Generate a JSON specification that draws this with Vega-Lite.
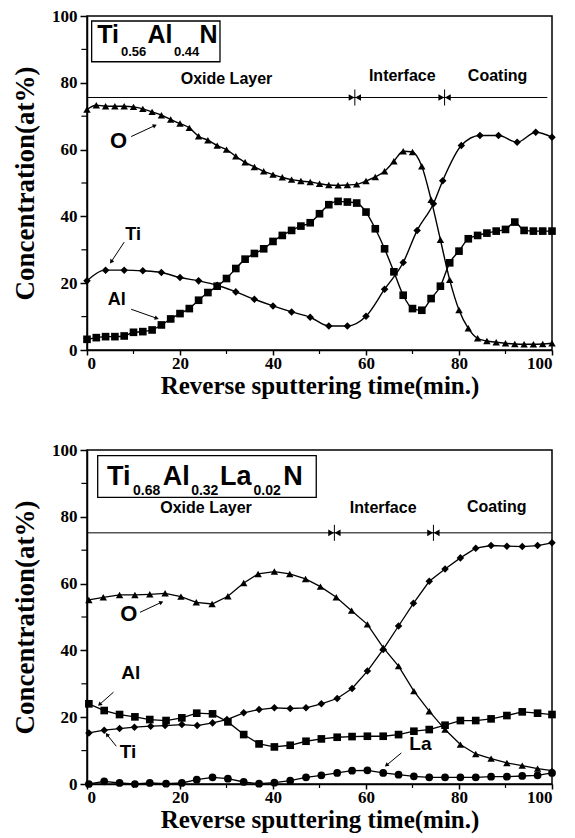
{
  "$schema": "https://vega.github.io/schema/vega-lite/v6.json",
  "padding": {"left": 10, "top": 6, "right": 5, "bottom": 3},
  "background": "white",
  "datasets": {
    "top": [
      {"s":"O","t":0,"c":72},{"s":"O","t":2,"c":73.3},{"s":"O","t":4,"c":73},{"s":"O","t":6,"c":73},{"s":"O","t":8,"c":73},{"s":"O","t":10,"c":72.8},{"s":"O","t":12,"c":72.2},{"s":"O","t":14,"c":71.3},{"s":"O","t":16,"c":70.3},{"s":"O","t":18,"c":69},{"s":"O","t":20,"c":67.8},{"s":"O","t":22,"c":66.5},{"s":"O","t":24,"c":64},{"s":"O","t":26,"c":62.8},{"s":"O","t":28,"c":61.2},{"s":"O","t":30,"c":60},{"s":"O","t":32,"c":58},{"s":"O","t":34,"c":56.2},{"s":"O","t":36,"c":54.8},{"s":"O","t":38,"c":53.5},{"s":"O","t":40,"c":52.5},{"s":"O","t":42,"c":51.7},{"s":"O","t":44,"c":51},{"s":"O","t":46,"c":50.6},{"s":"O","t":48,"c":50.3},{"s":"O","t":50,"c":49.8},{"s":"O","t":52,"c":49.4},{"s":"O","t":54,"c":49.3},{"s":"O","t":56,"c":49.4},{"s":"O","t":58,"c":49.6},{"s":"O","t":60,"c":50.6},{"s":"O","t":62,"c":51.8},{"s":"O","t":64,"c":53.5},{"s":"O","t":66,"c":56.5},{"s":"O","t":68,"c":59.5},{"s":"O","t":70,"c":59.3},{"s":"O","t":72,"c":55},{"s":"O","t":74,"c":45},{"s":"O","t":76,"c":33},{"s":"O","t":78,"c":21},{"s":"O","t":80,"c":12},{"s":"O","t":82,"c":6.5},{"s":"O","t":84,"c":3.5},{"s":"O","t":86,"c":2.7},{"s":"O","t":88,"c":2.3},{"s":"O","t":90,"c":2},{"s":"O","t":92,"c":1.8},{"s":"O","t":94,"c":1.7},{"s":"O","t":96,"c":1.7},{"s":"O","t":98,"c":1.8},{"s":"O","t":100,"c":2},
      {"s":"Ti","t":0,"c":20.7},{"s":"Ti","t":4,"c":23.9},{"s":"Ti","t":8,"c":23.9},{"s":"Ti","t":12,"c":23.7},{"s":"Ti","t":16,"c":23.2},{"s":"Ti","t":20,"c":21.7},{"s":"Ti","t":24,"c":20.7},{"s":"Ti","t":28,"c":19.4},{"s":"Ti","t":32,"c":17.4},{"s":"Ti","t":36,"c":15.2},{"s":"Ti","t":40,"c":13.2},{"s":"Ti","t":44,"c":11.4},{"s":"Ti","t":48,"c":9.8},{"s":"Ti","t":52,"c":7.2},{"s":"Ti","t":56,"c":7.2},{"s":"Ti","t":60,"c":10.1},{"s":"Ti","t":64,"c":18.2},{"s":"Ti","t":68,"c":26.2},{"s":"Ti","t":71,"c":35.8},{"s":"Ti","t":74.5,"c":43.8},{"s":"Ti","t":76.5,"c":50.7},{"s":"Ti","t":80.5,"c":61.2},{"s":"Ti","t":84.5,"c":64.2},{"s":"Ti","t":88.5,"c":64.2},{"s":"Ti","t":92.5,"c":62.2},{"s":"Ti","t":96.5,"c":65.2},{"s":"Ti","t":100,"c":63.7},
      {"s":"Al","t":0,"c":3.2},{"s":"Al","t":2,"c":3.7},{"s":"Al","t":4,"c":4},{"s":"Al","t":6,"c":4},{"s":"Al","t":8,"c":4.2},{"s":"Al","t":10,"c":5.3},{"s":"Al","t":12,"c":5.5},{"s":"Al","t":14,"c":6},{"s":"Al","t":16,"c":7.5},{"s":"Al","t":18,"c":9.3},{"s":"Al","t":20,"c":10.9},{"s":"Al","t":22,"c":12.4},{"s":"Al","t":24,"c":14.9},{"s":"Al","t":26,"c":17.2},{"s":"Al","t":28,"c":19.1},{"s":"Al","t":30,"c":21.4},{"s":"Al","t":32,"c":24.4},{"s":"Al","t":34,"c":27.2},{"s":"Al","t":36,"c":28.9},{"s":"Al","t":38,"c":30.3},{"s":"Al","t":40,"c":32.5},{"s":"Al","t":42,"c":34.3},{"s":"Al","t":44,"c":35.8},{"s":"Al","t":46,"c":37.1},{"s":"Al","t":48,"c":38.1},{"s":"Al","t":50,"c":40.8},{"s":"Al","t":52,"c":43.5},{"s":"Al","t":54,"c":44.5},{"s":"Al","t":56,"c":44.3},{"s":"Al","t":58,"c":44},{"s":"Al","t":60,"c":41.3},{"s":"Al","t":62,"c":36.3},{"s":"Al","t":64,"c":30.3},{"s":"Al","t":66,"c":23.4},{"s":"Al","t":68,"c":16.4},{"s":"Al","t":70,"c":12.4},{"s":"Al","t":72,"c":11.9},{"s":"Al","t":74,"c":15.4},{"s":"Al","t":76,"c":19.1},{"s":"Al","t":78,"c":26.1},{"s":"Al","t":80,"c":29.6},{"s":"Al","t":82,"c":33.3},{"s":"Al","t":84,"c":34.3},{"s":"Al","t":86,"c":35},{"s":"Al","t":88,"c":35.6},{"s":"Al","t":90,"c":36.1},{"s":"Al","t":92,"c":38.3},{"s":"Al","t":94,"c":35.8},{"s":"Al","t":96,"c":35.6},{"s":"Al","t":98,"c":35.6},{"s":"Al","t":100,"c":35.6}
    ],
    "bottom": [
      {"s":"O","t":0.4,"c":55.1},{"s":"O","t":3.5,"c":55.9},{"s":"O","t":7,"c":56.6},{"s":"O","t":10.3,"c":56.6},{"s":"O","t":13.5,"c":56.8},{"s":"O","t":16.8,"c":57.1},{"s":"O","t":20.2,"c":56.1},{"s":"O","t":23.5,"c":54.4},{"s":"O","t":26.9,"c":53.9},{"s":"O","t":30.3,"c":56.2},{"s":"O","t":33.7,"c":60.2},{"s":"O","t":36.8,"c":62.9},{"s":"O","t":40.3,"c":63.6},{"s":"O","t":43.6,"c":62.9},{"s":"O","t":47,"c":61.4},{"s":"O","t":50.2,"c":59.1},{"s":"O","t":53.6,"c":55.9},{"s":"O","t":56.9,"c":51.9},{"s":"O","t":60.3,"c":47.8},{"s":"O","t":63.7,"c":40.8},{"s":"O","t":67,"c":35.3},{"s":"O","t":70.3,"c":27.8},{"s":"O","t":73.6,"c":21.8},{"s":"O","t":77,"c":16.3},{"s":"O","t":80.3,"c":11.8},{"s":"O","t":83.6,"c":9},{"s":"O","t":86.9,"c":7.6},{"s":"O","t":90.3,"c":6.3},{"s":"O","t":93.6,"c":5.5},{"s":"O","t":96.9,"c":4.6},{"s":"O","t":100,"c":4},
      {"s":"Ti","t":0.4,"c":15.3},{"s":"Ti","t":3.7,"c":16.1},{"s":"Ti","t":7,"c":16.6},{"s":"Ti","t":10.2,"c":17},{"s":"Ti","t":13.7,"c":17.3},{"s":"Ti","t":16.8,"c":17.5},{"s":"Ti","t":20.4,"c":17.8},{"s":"Ti","t":23.7,"c":17.5},{"s":"Ti","t":27,"c":18.3},{"s":"Ti","t":30.1,"c":19.3},{"s":"Ti","t":33.7,"c":21.3},{"s":"Ti","t":37,"c":22.3},{"s":"Ti","t":40.3,"c":22.8},{"s":"Ti","t":43.7,"c":22.6},{"s":"Ti","t":47.1,"c":22.8},{"s":"Ti","t":50.4,"c":24},{"s":"Ti","t":53.8,"c":25.6},{"s":"Ti","t":57,"c":28.6},{"s":"Ti","t":60.3,"c":33.8},{"s":"Ti","t":63.7,"c":40.3},{"s":"Ti","t":67,"c":47.3},{"s":"Ti","t":70.2,"c":54.1},{"s":"Ti","t":73.6,"c":60.7},{"s":"Ti","t":77,"c":64.4},{"s":"Ti","t":80.3,"c":67.7},{"s":"Ti","t":83.6,"c":70.6},{"s":"Ti","t":86.9,"c":71.4},{"s":"Ti","t":90.3,"c":71.2},{"s":"Ti","t":93.6,"c":71.1},{"s":"Ti","t":96.9,"c":71.4},{"s":"Ti","t":100,"c":72.2},
      {"s":"Al","t":0.4,"c":24},{"s":"Al","t":3.7,"c":22},{"s":"Al","t":7,"c":20.8},{"s":"Al","t":10.3,"c":20.1},{"s":"Al","t":13.5,"c":19.3},{"s":"Al","t":17,"c":19},{"s":"Al","t":20.4,"c":19.8},{"s":"Al","t":23.6,"c":21.2},{"s":"Al","t":27,"c":21},{"s":"Al","t":30.3,"c":18.6},{"s":"Al","t":33.7,"c":14.8},{"s":"Al","t":37,"c":12},{"s":"Al","t":40.3,"c":11.1},{"s":"Al","t":43.7,"c":11.6},{"s":"Al","t":47.1,"c":12.8},{"s":"Al","t":50.4,"c":13.5},{"s":"Al","t":53.8,"c":14},{"s":"Al","t":57,"c":14.2},{"s":"Al","t":60.3,"c":14.3},{"s":"Al","t":63.7,"c":14.3},{"s":"Al","t":67,"c":14.8},{"s":"Al","t":70.3,"c":15.8},{"s":"Al","t":73.6,"c":16.3},{"s":"Al","t":77,"c":17.6},{"s":"Al","t":80.3,"c":19},{"s":"Al","t":83.6,"c":19},{"s":"Al","t":86.9,"c":19.5},{"s":"Al","t":90.3,"c":20.5},{"s":"Al","t":93.6,"c":21.6},{"s":"Al","t":96.9,"c":21.2},{"s":"Al","t":100,"c":20.8},
      {"s":"La","t":0.4,"c":0},{"s":"La","t":3.7,"c":0.8},{"s":"La","t":7,"c":0.3},{"s":"La","t":10.3,"c":0},{"s":"La","t":13.5,"c":0.3},{"s":"La","t":17,"c":0.1},{"s":"La","t":20.4,"c":0.3},{"s":"La","t":23.6,"c":1.3},{"s":"La","t":27,"c":2},{"s":"La","t":30.3,"c":1.6},{"s":"La","t":33.7,"c":0.6},{"s":"La","t":37,"c":0.1},{"s":"La","t":40.3,"c":0.4},{"s":"La","t":43.7,"c":1},{"s":"La","t":47.1,"c":2},{"s":"La","t":50.4,"c":2.6},{"s":"La","t":53.8,"c":3.3},{"s":"La","t":57,"c":4},{"s":"La","t":60.3,"c":4.1},{"s":"La","t":63.7,"c":3.3},{"s":"La","t":67,"c":2.8},{"s":"La","t":70.3,"c":2.3},{"s":"La","t":73.6,"c":2},{"s":"La","t":77,"c":2},{"s":"La","t":80.3,"c":2},{"s":"La","t":83.6,"c":2},{"s":"La","t":86.9,"c":2.2},{"s":"La","t":90.3,"c":2.2},{"s":"La","t":93.6,"c":2.4},{"s":"La","t":96.9,"c":2.6},{"s":"La","t":100,"c":3.3}
    ],
    "minorTicks": [
      {"t":-1.2,"t2":0,"c":10,"c2":10},{"t":-1.2,"t2":0,"c":30,"c2":30},{"t":-1.2,"t2":0,"c":50,"c2":50},{"t":-1.2,"t2":0,"c":70,"c2":70},{"t":-1.2,"t2":0,"c":90,"c2":90},
      {"t":10,"t2":10,"c":-1.2,"c2":0},{"t":30,"t2":30,"c":-1.2,"c2":0},{"t":50,"t2":50,"c":-1.2,"c2":0},{"t":70,"t2":70,"c":-1.2,"c2":0},{"t":90,"t2":90,"c":-1.2,"c2":0}
    ],
    "topArrows": [
      {"t": 14.6, "c": 67.2, "t0": 9.5, "c0": 63.9},
      {"t": 5.2, "c": 26.4, "t0": 8, "c0": 32.3},
      {"t": 15, "c": 9.5, "t0": 9.5, "c0": 12.2}
    ],
    "bottomArrows": [
      {"t": 16, "c": 54.4, "t0": 11.4, "c0": 51.4},
      {"t": 2.7, "c": 23.8, "t0": 5.7, "c0": 27.5},
      {"t": 4.3, "c": 14.8, "t0": 6.3, "c0": 11.3},
      {"t": 64.4, "c": 5.6, "t0": 67.6, "c0": 9.3}
    ]
  },
  "vconcat": [
    {
      "width": 465, "height": 334,
      "encoding": {
        "x": {"field": "t", "type": "quantitative", "scale": {"domain": [0, 100], "nice": false, "zero": false}, "axis": {"values": [0, 20, 40, 60, 80, 100], "title": "Reverse sputtering time(min.)", "titlePadding": 2, "labelPadding": 0, "tickSize": 5}},
        "y": {"field": "c", "type": "quantitative", "scale": {"domain": [0, 100], "nice": false, "zero": false}, "axis": {"values": [0, 20, 40, 60, 80, 100], "title": "Concentration(at%)", "titlePadding": 12, "titleFontSize": 27}}
      },
      "layer": [
        {"data": {"name": "minorTicks"}, "mark": {"type": "rule", "color": "black", "strokeWidth": 1.2}, "encoding": {"x2": {"field": "t2"}, "y2": {"field": "c2"}}},
        {"data": {"values": [{"t": 1, "t2": 28.6, "c": 86.3, "c2": 98.5}]}, "mark": {"type": "rect", "fill": "white", "stroke": "black", "strokeWidth": 1.3}, "encoding": {"x2": {"field": "t2"}, "y2": {"field": "c2"}}},
        {"data": {"values": [{"txt": "Ti", "t": 2.2, "c": 92}, {"txt": "Al", "t": 13.0, "c": 92}, {"txt": "N", "t": 24.2, "c": 92}]}, "mark": {"type": "text", "font": "Liberation Sans", "fontWeight": "bold", "fontSize": 25, "align": "left", "baseline": "alphabetic", "color": "black"}, "encoding": {"text": {"field": "txt"}}},
        {"data": {"values": [{"txt": "0.56", "t": 7.3, "c": 88}, {"txt": "0.44", "t": 18.7, "c": 88}]}, "mark": {"type": "text", "font": "Liberation Sans", "fontWeight": "bold", "fontSize": 13, "align": "left", "baseline": "alphabetic", "color": "black"}, "encoding": {"text": {"field": "txt"}}},
        {"data": {"values": [{"t": 0, "t2": 99, "c": 75.6}]}, "mark": {"type": "rule", "color": "black", "strokeWidth": 1}, "encoding": {"x2": {"field": "t2"}}},
        {"data": {"values": [{"t": 57.6, "c": 73.2, "c2": 78}, {"t": 76.9, "c": 73.2, "c2": 78}]}, "mark": {"type": "rule", "color": "black", "strokeWidth": 1}, "encoding": {"y2": {"field": "c2"}}},
        {"data": {"values": [{"t": 56.9, "c": 75.6}, {"t": 76.2, "c": 75.6}]}, "mark": {"type": "point", "shape": "triangle-right", "filled": true, "color": "black", "opacity": 1, "size": 45}},
        {"data": {"values": [{"t": 58.3, "c": 75.6}, {"t": 77.6, "c": 75.6}]}, "mark": {"type": "point", "shape": "triangle-left", "filled": true, "color": "black", "opacity": 1, "size": 45}},
        {"data": {"values": [{"txt": "Oxide Layer", "t": 30, "c": 81.1}, {"txt": "Interface", "t": 67.8, "c": 82}, {"txt": "Coating", "t": 88.3, "c": 82}]}, "mark": {"type": "text", "font": "Liberation Sans", "fontWeight": "bold", "fontSize": 16, "align": "center", "baseline": "middle", "color": "black"}, "encoding": {"text": {"field": "txt"}}},
        {"data": {"name": "top"}, "mark": {"type": "line", "color": "black", "strokeWidth": 1.4, "interpolate": "monotone"}, "encoding": {"detail": {"field": "s"}}},
        {"data": {"name": "top"}, "mark": {"type": "point", "filled": true, "color": "black", "opacity": 1}, "encoding": {"shape": {"field": "s", "scale": {"domain": ["O", "Ti", "Al", "La"], "range": ["triangle-up", "diamond", "square", "circle"]}, "legend": null}, "size": {"field": "s", "scale": {"domain": ["O", "Ti", "Al", "La"], "range": [55, 60, 38, 40]}, "legend": null}}},
        {"data": {"values": [{"txt": "O", "t": 6.8, "c": 62.7}]}, "mark": {"type": "text", "font": "Liberation Sans", "fontWeight": "bold", "fontSize": 22, "align": "center", "baseline": "middle", "color": "black"}, "encoding": {"text": {"field": "txt"}}},
        {"data": {"values": [{"txt": "Ti", "t": 9.9, "c": 34.5}, {"txt": "Al", "t": 6.4, "c": 14.9}]}, "mark": {"type": "text", "font": "Liberation Sans", "fontWeight": "bold", "fontSize": 18, "align": "center", "baseline": "middle", "color": "black"}, "encoding": {"text": {"field": "txt"}}},
        {"data": {"name": "topArrows"}, "mark": {"type": "rule", "color": "black", "strokeWidth": 1}, "encoding": {"x2": {"field": "t0"}, "y2": {"field": "c0"}}},
        {"data": {"name": "topArrows"}, "transform": [{"calculate": "atan2((datum.t-datum.t0)*4.65, (datum.c-datum.c0)*3.34)*180/PI", "as": "ang"}], "mark": {"type": "point", "shape": "triangle-up", "filled": true, "color": "black", "opacity": 1, "size": 22}, "encoding": {"angle": {"field": "ang", "type": "quantitative", "scale": null}}}
      ]
    },
    {
      "width": 465, "height": 334,
      "encoding": {
        "x": {"field": "t", "type": "quantitative", "scale": {"domain": [0, 100], "nice": false, "zero": false}, "axis": {"values": [0, 20, 40, 60, 80, 100], "title": "Reverse sputtering time(min.)", "titlePadding": 2, "labelPadding": 0, "tickSize": 5}},
        "y": {"field": "c", "type": "quantitative", "scale": {"domain": [0, 100], "nice": false, "zero": false}, "axis": {"values": [0, 20, 40, 60, 80, 100], "title": "Concentration(at%)", "titlePadding": 12, "titleFontSize": 27}}
      },
      "layer": [
        {"data": {"name": "minorTicks"}, "mark": {"type": "rule", "color": "black", "strokeWidth": 1.2}, "encoding": {"x2": {"field": "t2"}, "y2": {"field": "c2"}}},
        {"data": {"values": [{"t": 2.3, "t2": 49.3, "c": 85.8, "c2": 98.3}]}, "mark": {"type": "rect", "fill": "white", "stroke": "black", "strokeWidth": 1.3}, "encoding": {"x2": {"field": "t2"}, "y2": {"field": "c2"}}},
        {"data": {"values": [{"txt": "Ti", "t": 4.3, "c": 89.6}, {"txt": "Al", "t": 16.3, "c": 89.6}, {"txt": "La", "t": 28.6, "c": 89.6}, {"txt": "N", "t": 42.2, "c": 89.6}]}, "mark": {"type": "text", "font": "Liberation Sans", "fontWeight": "bold", "fontSize": 27, "align": "left", "baseline": "alphabetic", "color": "black"}, "encoding": {"text": {"field": "txt"}}},
        {"data": {"values": [{"txt": "0.68", "t": 9.9, "c": 86.6}, {"txt": "0.32", "t": 22.4, "c": 86.6}, {"txt": "0.02", "t": 35.8, "c": 86.6}]}, "mark": {"type": "text", "font": "Liberation Sans", "fontWeight": "bold", "fontSize": 14, "align": "left", "baseline": "alphabetic", "color": "black"}, "encoding": {"text": {"field": "txt"}}},
        {"data": {"values": [{"t": 0, "t2": 100, "c": 75.2}]}, "mark": {"type": "rule", "color": "black", "strokeWidth": 1}, "encoding": {"x2": {"field": "t2"}}},
        {"data": {"values": [{"t": 53.2, "c": 72.8, "c2": 77.6}, {"t": 74.5, "c": 72.8, "c2": 77.6}]}, "mark": {"type": "rule", "color": "black", "strokeWidth": 1}, "encoding": {"y2": {"field": "c2"}}},
        {"data": {"values": [{"t": 52.5, "c": 75.2}, {"t": 73.8, "c": 75.2}]}, "mark": {"type": "point", "shape": "triangle-right", "filled": true, "color": "black", "opacity": 1, "size": 45}},
        {"data": {"values": [{"t": 53.9, "c": 75.2}, {"t": 75.2, "c": 75.2}]}, "mark": {"type": "point", "shape": "triangle-left", "filled": true, "color": "black", "opacity": 1, "size": 45}},
        {"data": {"values": [{"txt": "Oxide Layer", "t": 25.6, "c": 82.6}, {"txt": "Interface", "t": 63.7, "c": 82.5}, {"txt": "Coating", "t": 88.1, "c": 82.9}]}, "mark": {"type": "text", "font": "Liberation Sans", "fontWeight": "bold", "fontSize": 16, "align": "center", "baseline": "middle", "color": "black"}, "encoding": {"text": {"field": "txt"}}},
        {"data": {"name": "bottom"}, "mark": {"type": "line", "color": "black", "strokeWidth": 1.3}, "encoding": {"detail": {"field": "s"}}},
        {"data": {"name": "bottom"}, "mark": {"type": "point", "filled": true, "color": "black", "opacity": 1}, "encoding": {"shape": {"field": "s", "scale": {"domain": ["O", "Ti", "Al", "La"], "range": ["triangle-up", "diamond", "square", "circle"]}, "legend": null}, "size": {"field": "s", "scale": {"domain": ["O", "Ti", "Al", "La"], "range": [55, 60, 38, 40]}, "legend": null}}},
        {"data": {"values": [{"txt": "O", "t": 9, "c": 51}]}, "mark": {"type": "text", "font": "Liberation Sans", "fontWeight": "bold", "fontSize": 22, "align": "center", "baseline": "middle", "color": "black"}, "encoding": {"text": {"field": "txt"}}},
        {"data": {"values": [{"txt": "Al", "t": 9.4, "c": 33.3}, {"txt": "Ti", "t": 8.8, "c": 9.6}, {"txt": "La", "t": 71.7, "c": 12}]}, "mark": {"type": "text", "font": "Liberation Sans", "fontWeight": "bold", "fontSize": 19, "align": "center", "baseline": "middle", "color": "black"}, "encoding": {"text": {"field": "txt"}}},
        {"data": {"name": "bottomArrows"}, "mark": {"type": "rule", "color": "black", "strokeWidth": 1}, "encoding": {"x2": {"field": "t0"}, "y2": {"field": "c0"}}},
        {"data": {"name": "bottomArrows"}, "transform": [{"calculate": "atan2((datum.t-datum.t0)*4.65, (datum.c-datum.c0)*3.34)*180/PI", "as": "ang"}], "mark": {"type": "point", "shape": "triangle-up", "filled": true, "color": "black", "opacity": 1, "size": 22}, "encoding": {"angle": {"field": "ang", "type": "quantitative", "scale": null}}}
      ]
    }
  ],
  "spacing": 100,
  "bounds": "flush",
  "config": {
    "view": {"stroke": "black", "strokeWidth": 1.5},
    "axis": {"domainColor": "black", "domainWidth": 1.5, "tickColor": "black", "tickWidth": 1.5, "tickSize": 7, "labelFont": "Liberation Serif", "labelFontWeight": "bold", "labelFontSize": 17, "labelColor": "black", "labelPadding": 3, "titleFont": "Liberation Serif", "titleFontWeight": "bold", "titleFontSize": 25, "titleColor": "black", "grid": false}
  }
}
